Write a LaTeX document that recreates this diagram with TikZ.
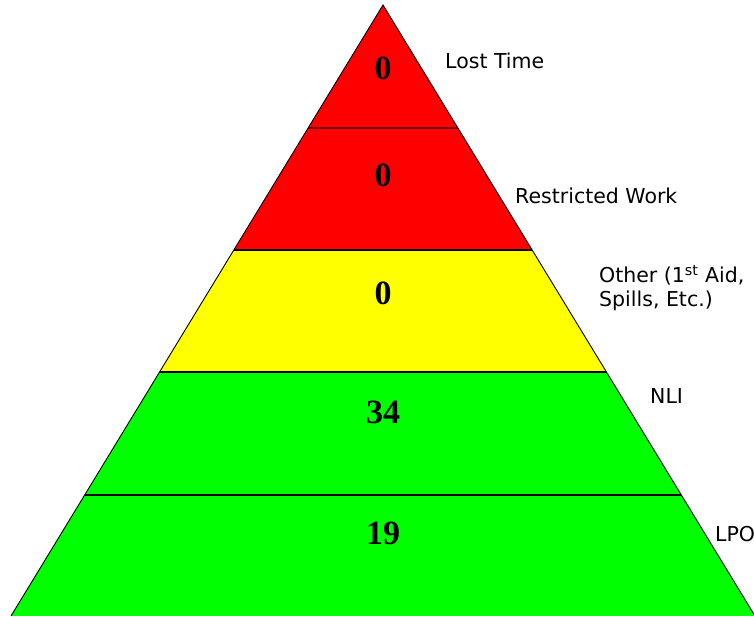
\documentclass[tikz,border=0pt]{standalone}
\usepackage{fontspec}
\setmainfont{DejaVu Sans}
\newfontfamily\numfont{Liberation Serif}
\definecolor{bandred}{RGB}{255,0,0}
\definecolor{bandyellow}{RGB}{255,255,0}
\definecolor{bandgreen}{RGB}{0,255,0}
\definecolor{darkline}{RGB}{120,0,0}
\tikzset{
  count/.style={font=\numfont\bfseries\fontsize{34}{34}\selectfont, inner sep=0pt},
  level/.style={anchor=west, align=left, inner sep=0pt, font=\fontsize{20.5}{24}\selectfont}
}
\begin{document}
\begin{tikzpicture}[x=1pt,y=1pt]
\useasboundingbox (0,0) rectangle (754,616);
\coordinate (apex) at (383,611);
\coordinate (left) at (11,0);
\coordinate (right) at (755,0);
\begin{scope}
\clip (left) -- (apex) -- (right) -- cycle;
\foreach \lo/\hi/\col in {0/121/bandgreen,121/244/bandgreen,244/366/bandyellow,366/488/bandred,488/616/bandred}{
  \fill[\col] (0,\lo) rectangle (754,\hi);
}
\foreach \y in {121,244,366}{
  \draw[line width=1.6pt] (0,\y) -- (754,\y);
}
\draw[line width=1.6pt,darkline] (0,488) -- (754,488);
\end{scope}
\draw[line width=0.9pt] (left) -- (apex) -- (right);
\foreach \name/\y/\n in {lost/548/0,restricted/441/0,other/323/0,nli/204/34,lpo/83/19}{
  \node[count] (n\name) at (383,\y) {\n};
}
\node[level] (llost) at (445,555) {Lost Time};
\node[level] (lrestricted) at (515,420) {Restricted Work};
\node[level] (lother) at (599,328) {Other (1\textsuperscript{st} Aid,\\Spills, Etc.)};
\node[level] (lnli) at (650,220) {NLI};
\node[level] (llpo) at (715,82) {LPO};
\end{tikzpicture}
\end{document}
